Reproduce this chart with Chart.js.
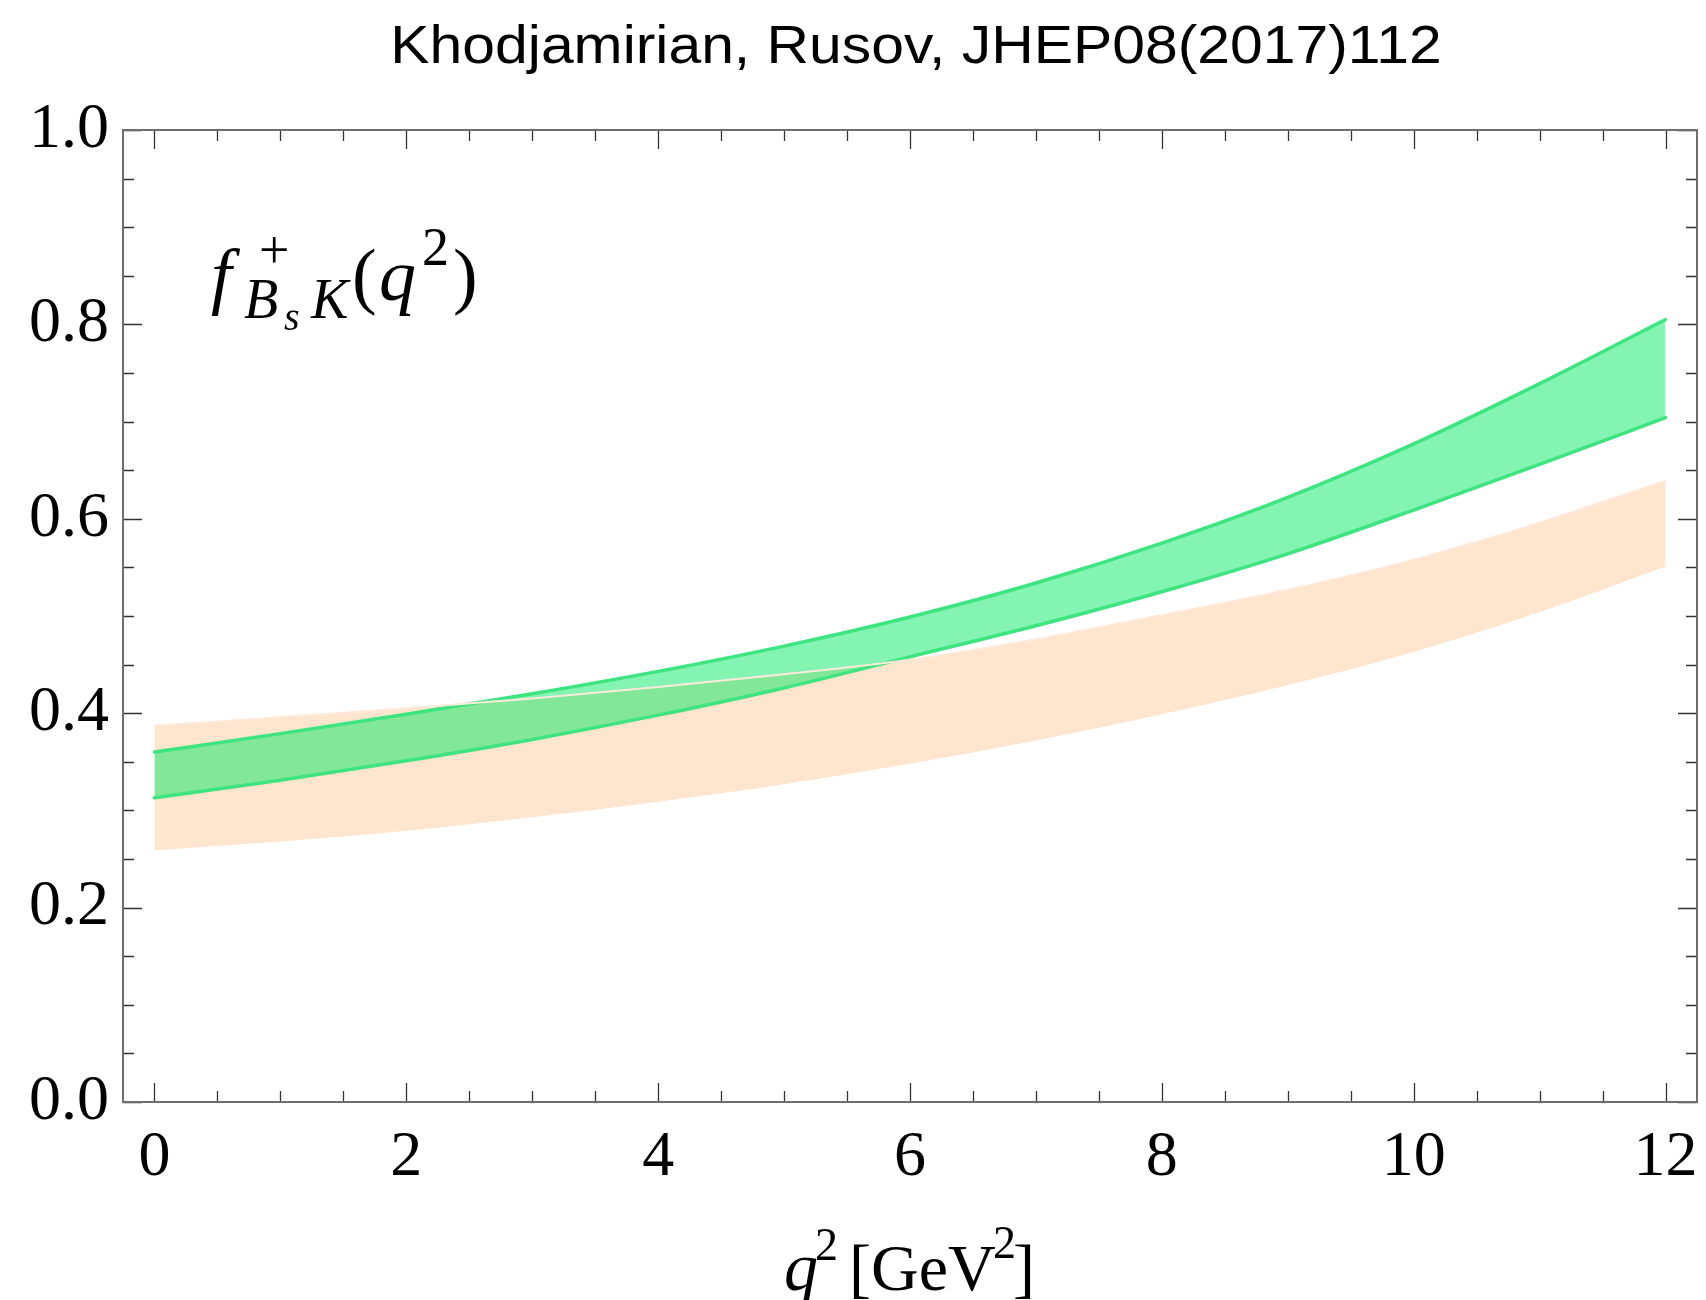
<!DOCTYPE html>
<html>
<head>
<meta charset="utf-8">
<script src="https://cdn.jsdelivr.net/npm/chart.js@4.4.0/dist/chart.umd.min.js"></script>
<style>
  html, body { margin: 0; padding: 0; background: #fff; }
  canvas { display: block; }
</style>
</head>
<body>
<canvas id="myChart" width="1706" height="1300"></canvas>
<script>
// q^2 grid [GeV^2]
var q2 = [0, 1, 2, 3, 4, 5, 6, 7, 8, 9, 10, 11, 12];

// green band
var greenUpper = [0.360, 0.379, 0.399, 0.420, 0.443, 0.469, 0.499, 0.534, 0.575, 0.622, 0.677, 0.739, 0.805];
var greenLower = [0.313, 0.331, 0.351, 0.373, 0.398, 0.426, 0.458, 0.490, 0.525, 0.564, 0.609, 0.656, 0.704];

// orange band
var orangeUpper = [0.387, 0.396, 0.405, 0.415, 0.427, 0.440, 0.455, 0.476, 0.501, 0.527, 0.558, 0.596, 0.639];
var orangeLower = [0.259, 0.268, 0.279, 0.293, 0.309, 0.327, 0.348, 0.372, 0.399, 0.429, 0.463, 0.504, 0.551];

// axis ticks
var xTicks = [0, 2, 4, 6, 8, 10, 12];
var xTickLabels = ['0', '2', '4', '6', '8', '10', '12'];
var xMinorTicks = [0.5, 1, 1.5, 2.5, 3, 3.5, 4.5, 5, 5.5, 6.5, 7, 7.5, 8.5, 9, 9.5, 10.5, 11, 11.5];
var yTicks = [0, 0.2, 0.4, 0.6, 0.8, 1.0];
var yTickLabels = ['0.0', '0.2', '0.4', '0.6', '0.8', '1.0'];
var yMinorTicks = [0.05, 0.1, 0.15, 0.25, 0.3, 0.35, 0.45, 0.5, 0.55, 0.65, 0.7, 0.75, 0.85, 0.9, 0.95];

function pts(ys) {
  return q2.map(function (x, i) { return { x: x, y: ys[i] }; });
}

var green = '#3de47f';
var greenFill = 'rgba(7, 233, 101, 0.5)';
var orangeFill = '#fee5cd';
var orangeEdge = '#fdeadb';
var serif = '"Liberation Serif", "Times New Roman", serif';

// frame with inward ticks on all four sides
var framePlugin = {
  id: 'frame',
  afterDatasetsDraw: function (chart) {
    var ctx = chart.ctx, a = chart.chartArea;
    var xs = chart.scales.x, ys = chart.scales.y;
    ctx.save();
    ctx.strokeStyle = '#333';
    ctx.lineWidth = 1.3;
    ctx.beginPath();
    function xt(v, len) {
      var px = Math.round(xs.getPixelForValue(v)) + 0.5;
      ctx.moveTo(px, a.bottom); ctx.lineTo(px, a.bottom - len);
      ctx.moveTo(px, a.top); ctx.lineTo(px, a.top + len);
    }
    function yt(v, len) {
      var py = Math.round(ys.getPixelForValue(v)) + 0.5;
      ctx.moveTo(a.left, py); ctx.lineTo(a.left + len, py);
      ctx.moveTo(a.right, py); ctx.lineTo(a.right - len, py);
    }
    xTicks.forEach(function (v) { xt(v, 19); });
    xMinorTicks.forEach(function (v) { xt(v, 11); });
    yTicks.forEach(function (v) { yt(v, 19); });
    yMinorTicks.forEach(function (v) { yt(v, 11); });
    ctx.stroke();
    ctx.strokeStyle = '#6e6e6e';
    ctx.lineWidth = 2;
    ctx.strokeRect(a.left, a.top, a.right - a.left, a.bottom - a.top);
    ctx.restore();
  }
};

// title, axis title and the form-factor label
var textPlugin = {
  id: 'texts',
  afterDraw: function (chart) {
    var ctx = chart.ctx, a = chart.chartArea;
    var cx = (a.left + a.right) / 2;
    ctx.save();
    ctx.fillStyle = '#000';
    ctx.textBaseline = 'alphabetic';

    // title
    ctx.save();
    ctx.translate(cx + 6, 63);
    ctx.scale(1.09, 1);
    ctx.font = '54px "Liberation Sans", Arial, sans-serif';
    ctx.textAlign = 'center';
    ctx.fillText('Khodjamirian, Rusov, JHEP08(2017)112', 0, 0);
    ctx.restore();

    ctx.textAlign = 'left';

    // pieces placed relative to the plot area corner
    function put(list) {
      list.forEach(function (p) {
        ctx.font = p.f;
        ctx.fillText(p.t, a.left + p.x, a.top + p.y);
      });
    }

    // x axis title q^2[GeV^2]
    put([
      { t: 'q', f: 'italic 68px ' + serif, x: 661, y: 1160 },
      { t: '2', f: '46px ' + serif, x: 692, y: 1130 },
      { t: '[GeV', f: '66px ' + serif, x: 726, y: 1160 },
      { t: '2', f: '46px ' + serif, x: 870, y: 1128 },
      { t: ']', f: '66px ' + serif, x: 890, y: 1160 }
    ]);

    // f^+_{B_s K}(q^2)
    put([
      { t: 'f', f: 'italic 74px ' + serif, x: 88, y: 170 },
      { t: '+', f: '54px ' + serif, x: 136, y: 138 },
      { t: 'B', f: 'italic 56px ' + serif, x: 121, y: 188 },
      { t: 's', f: 'italic 40px ' + serif, x: 161, y: 200 },
      { t: 'K', f: 'italic 56px ' + serif, x: 188, y: 188 },
      { t: '(', f: '74px ' + serif, x: 229, y: 170 },
      { t: 'q', f: 'italic 74px ' + serif, x: 256, y: 170 },
      { t: '2', f: '54px ' + serif, x: 299, y: 135 },
      { t: ')', f: '74px ' + serif, x: 330, y: 170 }
    ]);
    ctx.restore();
  }
};

function noPad(s) {
  s.paddingLeft = 0; s.paddingRight = 0; s.paddingTop = 0; s.paddingBottom = 0;
}

var ctx = document.getElementById('myChart').getContext('2d');
var myChart = new Chart(ctx, {
  type: 'line',
  data: {
    datasets: [{
        // pale edge of the orange band, left on top of the green fill
        label: 'orange edge',
        data: pts(orangeUpper),
        borderColor: orangeEdge,
        borderWidth: 2,
        fill: false
      }, {
        label: 'green lower',
        data: pts(greenLower),
        borderColor: green,
        borderWidth: 3.5,
        fill: false
      }, {
        label: 'green upper',
        data: pts(greenUpper),
        borderColor: green,
        borderWidth: 3.5,
        backgroundColor: greenFill,
        fill: 1
      }, {
        label: 'orange upper',
        data: pts(orangeUpper),
        borderColor: 'rgba(0,0,0,0)',
        borderWidth: 1,
        backgroundColor: orangeFill,
        fill: 4
      }, {
        label: 'orange lower',
        data: pts(orangeLower),
        borderColor: 'rgba(0,0,0,0)',
        borderWidth: 1,
        fill: false
      }
    ]
  },
  options: {
    responsive: false,
    animation: false,
    devicePixelRatio: 1,
    layout: { padding: { top: 130, right: 9, left: 0, bottom: 0 } },
    elements: {
      point: { radius: 0, hoverRadius: 0 },
      line: { cubicInterpolationMode: 'monotone', borderJoinStyle: 'round', borderCapStyle: 'round' }
    },
    plugins: {
      legend: { display: false },
      tooltip: { enabled: false },
      title: { display: false }
    },
    scales: {
      x: {
        type: 'linear',
        min: -0.25,
        max: 12.25,
        afterBuildTicks: function (s) { s.ticks = xTicks.map(function (v) { return { value: v }; }); },
        afterFit: function (s) { s.height = 198; noPad(s); },
        grid: { display: false, drawTicks: false },
        border: { display: false },
        ticks: {
          autoSkip: false,
          maxRotation: 0,
          padding: 18,
          color: '#000',
          font: { family: serif, size: 64 },
          callback: function (v) { return xTickLabels[xTicks.indexOf(v)]; }
        }
      },
      y: {
        type: 'linear',
        min: 0,
        max: 1,
        afterBuildTicks: function (s) { s.ticks = yTicks.map(function (v) { return { value: v }; }); },
        afterFit: function (s) { s.width = 123; noPad(s); },
        grid: { display: false, drawTicks: false },
        border: { display: false },
        ticks: {
          autoSkip: false,
          padding: 14,
          color: '#000',
          font: { family: serif, size: 64 },
          callback: function (v) { return yTickLabels[yTicks.indexOf(v)]; }
        }
      }
    }
  },
  plugins: [framePlugin, textPlugin]
});
</script>
</body>
</html>
